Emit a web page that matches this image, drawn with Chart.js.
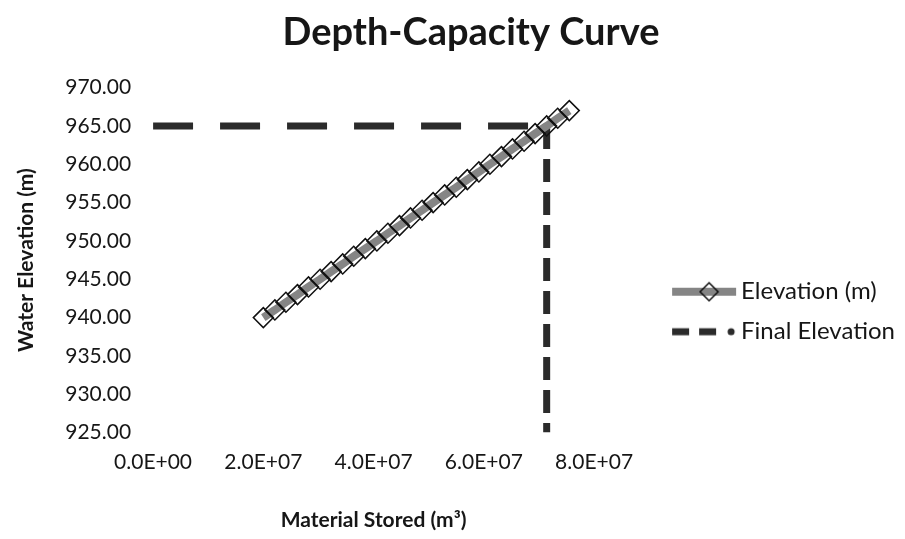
<!DOCTYPE html>
<html lang="en">
<head>
    <meta charset="UTF-8">
    <title>Depth-Capacity Curve</title>
    <script src="https://cdn.jsdelivr.net/npm/chart.js"></script>
    <style>
        body { margin: 0; background: #fff; }
        #wrap { width: 905px; height: 539px; }
    </style>
</head>
<body>
    <div id="wrap"><canvas id="chart"></canvas></div>

    <script>
        // ** Data **
        let elevations = [940, 941, 942, 943, 944, 945, 946, 947, 948, 949,
                          950, 951, 952, 953, 954, 955, 956, 957, 958, 959,
                          960, 961, 962, 963, 964, 965, 966, 967];
        // material stored, millions of m3
        let storedM = [20.0, 22.1, 24.1, 26.2, 28.2, 30.3, 32.3, 34.4, 36.4, 38.5,
                       40.6, 42.6, 44.7, 46.7, 48.8, 50.8, 52.9, 55.0, 57.0, 59.1,
                       61.1, 63.2, 65.2, 67.3, 69.3, 71.4, 73.4, 75.5];
        let finalX = [0, 71.4e6, 71.4e6];
        let finalY = [965, 965, 925];
        let seriesNames = ["Elevation (m)", "Final Elevation"];
        let xTicks = [0, 2e7, 4e7, 6e7, 8e7];
        let yTicks = [925, 930, 935, 940, 945, 950, 955, 960, 965, 970];

        function sci(v) {
            if (v === 0) return "0.0E+00";
            let e = Math.floor(Math.log10(Math.abs(v)));
            let m = v / Math.pow(10, e);
            return m.toFixed(1) + "E" + (e < 0 ? "-" : "+") + String(Math.abs(e)).padStart(2, "0");
        }

        let font = "Lato, 'Liberation Sans', sans-serif";
        let ink = "#161616";

        // legend glyphs (the left part of each icon is blank, it makes the gap after the plot)
        function legendIcon(draw) {
            let c = document.createElement("canvas");
            c.width = 135;
            c.height = 24;
            draw(c.getContext("2d"));
            return c;
        }
        let elevIcon = legendIcon(g => {
            g.strokeStyle = "#858585";
            g.lineWidth = 8;
            g.beginPath(); g.moveTo(70, 12); g.lineTo(134, 12); g.stroke();
            g.strokeStyle = "#111";
            g.lineWidth = 1.5;
            g.beginPath(); g.moveTo(107, 3); g.lineTo(116, 12); g.lineTo(107, 21); g.lineTo(98, 12); g.closePath(); g.stroke();
        });
        let finalIcon = legendIcon(g => {
            g.strokeStyle = "#2b2b2b";
            g.lineWidth = 7;
            g.beginPath(); g.moveTo(70, 12); g.lineTo(87, 12); g.moveTo(97, 12); g.lineTo(114, 12); g.stroke();
            g.fillStyle = "#2b2b2b";
            g.beginPath(); g.arc(129, 12, 3.5, 0, Math.PI * 2); g.fill();
        });
        let icons = [elevIcon, finalIcon];

        new Chart(document.getElementById("chart"), {
            type: "line",
            data: {
                datasets: [{
                    label: seriesNames[0],
                    data: storedM.map((v, i) => ({ x: v * 1e6, y: elevations[i] })),
                    borderColor: "#858585",
                    borderWidth: 8,
                    pointStyle: "rectRot",
                    pointRadius: 10,
                    pointBackgroundColor: "rgba(0,0,0,0)",
                    pointBorderColor: "#111",
                    pointBorderWidth: 1.5
                }, {
                    label: seriesNames[1],
                    data: finalX.map((v, i) => ({ x: v, y: finalY[i] })),
                    borderColor: "#2b2b2b",
                    backgroundColor: "#2b2b2b",
                    borderWidth: 7,
                    borderDash: [40, 27],
                    segment: {
                        // the drop line uses a shorter dash than the level line
                        borderDash: ctx => ctx.p0DataIndex === 0 ? [40, 27] : [23, 10]
                    },
                    pointRadius: 0
                }]
            },
            options: {
                responsive: true,
                maintainAspectRatio: false,
                animation: false,
                layout: { padding: { left: 0, right: 0, top: 0, bottom: 4 } },
                plugins: {
                    title: {
                        display: true,
                        // leading spaces nudge the centred title to the right, as in the picture
                        text: "    Depth-Capacity Curve",
                        color: ink,
                        font: { family: font, size: 38, weight: "bold" },
                        padding: { top: 10, bottom: 32 }
                    },
                    legend: {
                        position: "right",
                        maxWidth: 340,
                        title: { display: true, text: " ", padding: { top: 74, bottom: 0 }, font: { size: 12 } },
                        labels: {
                            color: ink,
                            font: { family: font, size: 24 },
                            usePointStyle: true,
                            pointStyleWidth: 119,
                            padding: 16,
                            generateLabels: chart =>
                                Chart.defaults.plugins.legend.labels.generateLabels(chart)
                                    .map((item, i) => Object.assign(item, { pointStyle: icons[i] }))
                        }
                    },
                    tooltip: { enabled: false }
                },
                scales: {
                    x: {
                        type: "linear",
                        min: 0,
                        max: 8e7,
                        afterBuildTicks: axis => { axis.ticks = xTicks.map(v => ({ value: v })); },
                        grid: { display: false, drawTicks: false },
                        border: { display: false },
                        ticks: {
                            color: ink,
                            font: { family: font, size: 21 },
                            padding: 17,
                            maxRotation: 0,
                            autoSkip: false,
                            callback: v => sci(v)
                        },
                        title: {
                            display: true,
                            text: "Material Stored (m³)",
                            color: ink,
                            font: { family: font, size: 21, weight: "bold" },
                            padding: { top: 16, bottom: 2 }
                        }
                    },
                    y: {
                        min: 925,
                        max: 970,
                        afterBuildTicks: axis => { axis.ticks = yTicks.map(v => ({ value: v })); },
                        grid: { display: false, drawTicks: false },
                        border: { display: false },
                        ticks: {
                            color: ink,
                            font: { family: font, size: 21 },
                            padding: 22,
                            callback: v => v.toFixed(2)
                        },
                        title: {
                            display: true,
                            text: "Water Elevation (m)",
                            color: ink,
                            font: { family: font, size: 21, weight: "bold" },
                            padding: { top: 14, bottom: 4 }
                        }
                    }
                }
            }
        });
    </script>
</body>
</html>
